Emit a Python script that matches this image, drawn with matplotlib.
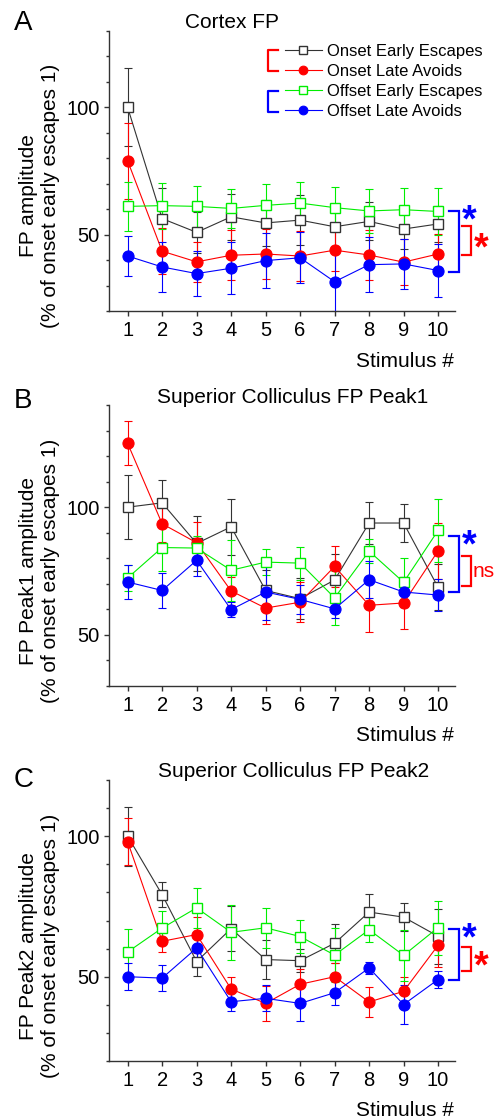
import matplotlib
matplotlib.use("Agg")
import matplotlib.pyplot as plt
from matplotlib.ticker import MultipleLocator, FixedLocator

plt.rcParams['font.family'] = ['Liberation Sans', 'DejaVu Sans']

# ---------------- data ----------------
stim = [1, 2, 3, 4, 5, 6, 7, 8, 9, 10]
series_names = ["Onset Early Escapes", "Onset Late Avoids",
                "Offset Early Escapes", "Offset Late Avoids"]

# Panel A: Cortex FP
onset_early_A = [100, 56.3, 50.9, 57.0, 54.6, 55.7, 53.1, 55.2, 52.2, 54.2]
onset_early_A_err = [15.3, 12, 8, 9, 9, 9.7, 7.5, 7.5, 7.7, 7]
onset_late_A = [79, 43.5, 39.3, 41.9, 42.4, 41.6, 43.9, 42.0, 39.2, 42.4]
onset_late_A_err = [15, 9, 8, 9.8, 10, 10, 8, 10, 9, 8]
offset_early_A = [61.1, 61.4, 61.1, 60.3, 61.5, 62.4, 60.6, 59.3, 59.8, 59.1]
offset_early_A_err = [9.5, 9, 8, 7.7, 8.5, 8.2, 8, 8.7, 8.5, 9.2]
offset_late_A = [41.6, 37.3, 34.7, 36.8, 39.8, 40.9, 31.5, 38.2, 38.5, 35.9]
offset_late_A_err = [7.7, 9.8, 8.7, 10.3, 10.9, 10, 11.5, 10.8, 9.9, 10.3]

# Panel B: Superior Colliculus FP Peak1
onset_early_B = [100, 101.7, 85.8, 92.3, 67.4, 64.2, 71.5, 93.8, 93.8, 68.6]
onset_early_B_err = [12.6, 9, 10.7, 11, 8, 8, 10, 8.3, 7.6, 9]
onset_late_B = [125, 93.5, 86.1, 67.2, 60.5, 62.8, 76.8, 61.6, 62.5, 82.9]
onset_late_B_err = [8.6, 7, 8, 5.5, 6.4, 7.9, 8, 10.3, 10, 11]
offset_early_B = [72.3, 84.2, 84.0, 75.3, 78.5, 78.1, 64.5, 82.8, 70.6, 90.9]
offset_early_B_err = [5, 9, 4.8, 12, 5, 6.5, 10.5, 4.8, 9.6, 12.4]
offset_late_B = [70.7, 67.4, 79.2, 59.9, 66.8, 63.9, 60.2, 71.6, 66.8, 65.6]
offset_late_B_err = [6.5, 7, 6, 3, 11, 5.8, 3.5, 7.2, 6, 6.3]

# Panel C: Superior Colliculus FP Peak2
onset_early_C = [100, 79.2, 55.4, 67.1, 56.1, 55.7, 61.9, 73.0, 71.2, 64.4]
onset_early_C_err = [10.5, 4.5, 5, 8, 6.8, 4.2, 7, 6.5, 5, 9.8]
onset_late_C = [98.1, 62.6, 65.0, 45.6, 40.5, 47.3, 50.0, 41.0, 44.8, 61.2]
onset_late_C_err = [8.3, 3.9, 6.4, 4.4, 6.3, 5.5, 5, 5.4, 5, 7.6]
offset_early_C = [58.8, 67.3, 74.5, 65.8, 67.4, 64.3, 57.7, 66.7, 57.6, 67.5]
offset_early_C_err = [8.2, 6, 7.2, 9.8, 7.2, 6, 9.5, 4.5, 9, 9.6]
offset_late_C = [50.0, 49.5, 60.2, 41.1, 42.3, 40.5, 44.3, 53.1, 40.1, 49.0]
offset_late_C_err = [4.7, 4.5, 5.5, 3.3, 4.6, 6.3, 4.2, 2.3, 6.9, 3]

# significance brackets (y extents) and labels
bracket_blue = {"A": (59.3, 35.5), "B": (88.8, 66.7), "C": (66.9, 48.7)}
bracket_red = {"A": (53.3, 41.9), "B": (80.9, 69.1), "C": (60.4, 52.0)}
sig_blue = {"A": "*", "B": "*", "C": "*"}
sig_red = {"A": "*", "B": "ns", "C": "*"}

titles = {"A": "Cortex FP", "B": "Superior Colliculus FP Peak1",
          "C": "Superior Colliculus FP Peak2"}
ylabels = {"A": "FP amplitude\n(% of onset early escapes 1)",
           "B": "FP Peak1 amplitude\n(% of onset early escapes 1)",
           "C": "FP Peak2 amplitude\n(% of onset early escapes 1)"}
ylims = {"A": (20, 130), "B": (30, 140), "C": (20, 120)}
xlabel = "Stimulus #"

panels = {
    "A": [(onset_early_A, onset_early_A_err), (onset_late_A, onset_late_A_err),
          (offset_early_A, offset_early_A_err), (offset_late_A, offset_late_A_err)],
    "B": [(onset_early_B, onset_early_B_err), (onset_late_B, onset_late_B_err),
          (offset_early_B, offset_early_B_err), (offset_late_B, offset_late_B_err)],
    "C": [(onset_early_C, onset_early_C_err), (onset_late_C, onset_late_C_err),
          (offset_early_C, offset_early_C_err), (offset_late_C, offset_late_C_err)],
}

# ---------------- style ----------------
W, H = 498, 1118
BLACK = '#333333'
RED = '#ff0000'
GREEN = '#00ee00'
BLUE = '#0000ff'
styles = [
    dict(color=BLACK, marker='s', mfc='white', mec=BLACK, ms=7.2, mew=1.0),
    dict(color=RED, marker='o', mfc=RED, mec=RED, ms=8.0, mew=0.8),
    dict(color=GREEN, marker='s', mfc='white', mec=GREEN, ms=7.2, mew=1.0),
    dict(color=BLUE, marker='o', mfc=BLUE, mec=BLUE, ms=8.0, mew=0.8),
]

fig = plt.figure(figsize=(W / 100, H / 100), dpi=100)

def fx(px):
    return px / W

def fy(py):
    return 1 - py / H

# pixel geometry of the axes: (top, bottom)
axes_px = {"A": (31, 311), "B": (405, 686), "C": (780, 1061)}
ax_left, ax_right = 109, 455
letter_base = {"A": 30, "B": 408, "C": 787}
title_base = {"A": (232, 28.3), "B": (293, 403.3), "C": (294, 776.7)}
xlabel_base = {"A": 366.7, "B": 740.7, "C": 1116}
ylabel_center = {"A": 196, "B": 571, "C": 946}

STAR_FS = 27

for key in ["A", "B", "C"]:
    top, bot = axes_px[key]
    ax = fig.add_axes([fx(ax_left), fy(bot), fx(ax_right - ax_left), (bot - top) / H])
    handles = []
    for (vals, errs), st, name in zip(panels[key], styles, series_names):
        ax.errorbar(stim, vals, yerr=errs, fmt='none', ecolor=st['color'],
                    elinewidth=0.8, capsize=2.8, capthick=0.8, zorder=2)
        h, = ax.plot(stim, vals, lw=0.8, label=name, zorder=3, **st)
        handles.append(h)

    ax.set_xlim(0.46, 10.49)
    ax.set_ylim(*ylims[key])
    ax.xaxis.set_major_locator(FixedLocator(stim))
    ax.yaxis.set_major_locator(MultipleLocator(50))
    ax.yaxis.set_minor_locator(MultipleLocator(10))
    for s in ['top', 'right']:
        ax.spines[s].set_visible(False)
    for s in ['left', 'bottom']:
        ax.spines[s].set_color(BLACK)
        ax.spines[s].set_linewidth(1.0)
    ax.tick_params(axis='both', which='major', direction='out', length=3.5,
                   width=1.0, color=BLACK, labelsize=14.5, pad=3)
    ax.tick_params(axis='y', which='minor', direction='out', length=2.2,
                   width=1.0, color=BLACK)
    ax.tick_params(axis='x', which='major', pad=4)

    # significance brackets
    def bracket(y0, y1, xa, xb, color):
        ax.plot([xa, xb, xb, xa], [y0, y0, y1, y1], color=color, lw=1.6,
                clip_on=False, solid_joinstyle='miter', zorder=4)
    b0, b1 = bracket_blue[key]
    r0, r1 = bracket_red[key]
    bracket(b0, b1, 10.31, 10.60, BLUE)
    bracket(r0, r1, 10.68, 10.95, RED)
    ax.annotate(sig_blue[key], xy=(10.90, b0), xytext=(0, -1.7 - 0.22 * STAR_FS),
                textcoords='offset points', color=BLUE, fontsize=STAR_FS,
                fontweight='bold', ha='center', va='center',
                annotation_clip=False)
    if sig_red[key] == "*":
        ax.annotate(sig_red[key], xy=(11.24, (r0 + r1) / 2),
                    xytext=(0, -0.22 * STAR_FS), textcoords='offset points',
                    color=RED, fontsize=STAR_FS, fontweight='bold',
                    ha='center', va='center', annotation_clip=False)
    else:
        ax.text(11.01, (r0 + r1) / 2, sig_red[key], color=RED, fontsize=15,
                ha='left', va='center', clip_on=False)

    if key == "A":
        ax.legend(handles, series_names, loc='upper left',
                  bbox_to_anchor=(0.509, 0.955), frameon=False,
                  fontsize=12, handlelength=2.2, handletextpad=0.3,
                  labelspacing=0.3, borderpad=0, borderaxespad=0,
                  markerscale=0.78, numpoints=1)
        # legend grouping brackets
        ax.plot([0.488, 0.4595, 0.4595, 0.488], [0.932, 0.932, 0.857, 0.857],
                transform=ax.transAxes, color=RED, lw=1.6, clip_on=False)
        ax.plot([0.488, 0.4595, 0.4595, 0.488], [0.786, 0.786, 0.711, 0.711],
                transform=ax.transAxes, color=BLUE, lw=1.6, clip_on=False)

    # texts
    fig.text(fx(14), fy(letter_base[key]), key, fontsize=20, ha='left',
             va='baseline')
    tx, tb = title_base[key]
    fig.text(fx(tx), fy(tb), titles[key], fontsize=15, ha='center',
             va='baseline')
    fig.text(fx(454), fy(xlabel_base[key]), xlabel, fontsize=15, ha='right',
             va='baseline')
    fig.text(fx(40), fy(ylabel_center[key]), ylabels[key], fontsize=15,
             rotation=90, ha='center', va='center', multialignment='center',
             linespacing=1.2)

fig.savefig("out.png", dpi=100, facecolor='white')
